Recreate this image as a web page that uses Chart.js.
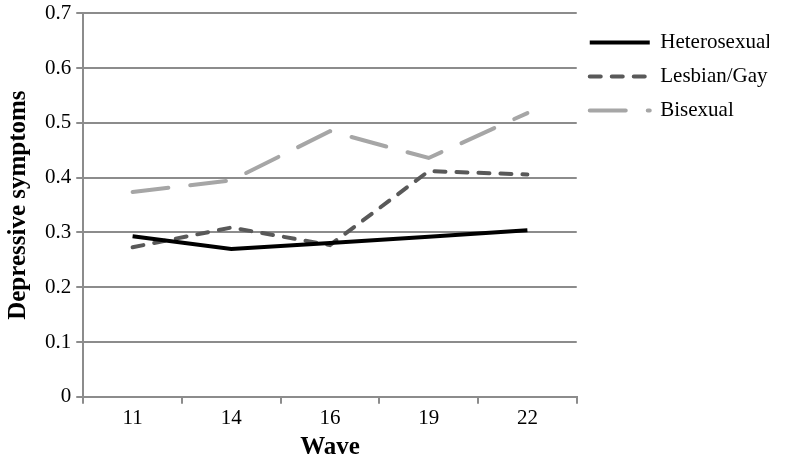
<!DOCTYPE html>
<html>
  <head>
    <meta charset="UTF-8">
    <style>
      body { margin: 0; background: #fff; }
      .canvas { width: 786px; height: 469px; position: relative; }
    </style>
  </head>
  <body>
    <div class="canvas">
      <canvas id="canvas"></canvas>
    </div>
    <script src="https://cdnjs.cloudflare.com/ajax/libs/Chart.js/4.4.1/chart.umd.min.js"></script>
    <script>
    // waves on the x axis
    var waves = ['11', '14', '16', '19', '22'];

    // mean depressive symptoms per group
    var heterosexual = [0.293, 0.270, 0.281, 0.292, 0.304];
    var lesbianGay = [0.273, 0.309, 0.277, 0.412, 0.406];
    var bisexual = [0.374, 0.395, 0.485, 0.436, 0.518];

    var serif = "'Liberation Serif', 'Times New Roman', serif";
    var gridGray = '#8c8c8c';

    var ctx = document.getElementById('canvas').getContext('2d');
    var chart = new Chart(ctx, {
        type: 'line',
        data: {
            labels: waves,
            datasets: [
                {
                    label: 'Heterosexual',
                    data: heterosexual,
                    borderColor: '#000000',
                    backgroundColor: '#000000',
                    borderWidth: 4,
                    tension: 0,
                    fill: false,
                    pointRadius: 0
                },
                {
                    label: 'Lesbian/Gay',
                    data: lesbianGay,
                    borderColor: '#595959',
                    backgroundColor: '#595959',
                    borderWidth: 4,
                    borderDash: [11, 11],
                    borderCapStyle: 'round',
                    tension: 0,
                    fill: false,
                    pointRadius: 0
                },
                {
                    label: 'Bisexual',
                    data: bisexual,
                    borderColor: '#a6a6a6',
                    backgroundColor: '#a6a6a6',
                    borderWidth: 4,
                    borderDash: [36, 22],
                    borderCapStyle: 'round',
                    tension: 0,
                    fill: false,
                    pointRadius: 0
                }
            ]
        },
        options: {
            responsive: true,
            maintainAspectRatio: false,
            animation: false,
            layout: { padding: { top: -5, right: 17, bottom: 2, left: 0 } },
            plugins: {
                tooltip: { enabled: false },
                legend: {
                    position: 'right',
                    align: 'start',
                    title: { display: true, text: ' ', font: { size: 20 }, padding: 0 },
                    labels: {
                        usePointStyle: true,
                        pointStyle: 'line',
                        pointStyleWidth: 60,
                        boxHeight: 20,
                        padding: 13,
                        color: '#000',
                        font: { family: serif, size: 21 },
                        // keep the dash pattern of each line in the legend sample
                        generateLabels: function (chart) {
                            var items = Chart.defaults.plugins.legend.labels.generateLabels(chart);
                            items.forEach(function (item, i) {
                                var ds = chart.data.datasets[i];
                                item.lineDash = ds.borderDash || [];
                                item.lineCap = ds.borderCapStyle || 'butt';
                                item.lineWidth = ds.borderWidth;
                                item.strokeStyle = ds.borderColor;
                            });
                            return items;
                        }
                    }
                }
            },
            scales: {
                x: {
                    offset: true,
                    grid: {
                        offset: true,
                        drawOnChartArea: false,
                        tickLength: 7,
                        color: gridGray,
                        lineWidth: 2
                    },
                    border: { color: gridGray, width: 2 },
                    ticks: { color: '#000', font: { family: serif, size: 21 }, padding: 2 },
                    title: {
                        display: true,
                        text: 'Wave',
                        color: '#000',
                        font: { family: serif, size: 25, weight: 'bold' },
                        padding: { top: 0 }
                    }
                },
                y: {
                    min: 0,
                    max: 0.7,
                    ticks: {
                        stepSize: 0.1,
                        color: '#000',
                        font: { family: serif, size: 21, lineHeight: 0.8 },
                        padding: 5
                    },
                    grid: { color: gridGray, lineWidth: 2, tickLength: 7 },
                    border: { color: gridGray, width: 2 },
                    title: {
                        display: true,
                        text: 'Depressive symptoms',
                        color: '#000',
                        font: { family: serif, size: 25, weight: 'bold' },
                        padding: { bottom: 6 }
                    }
                }
            }
        }
    });
    </script>
  </body>
</html>
